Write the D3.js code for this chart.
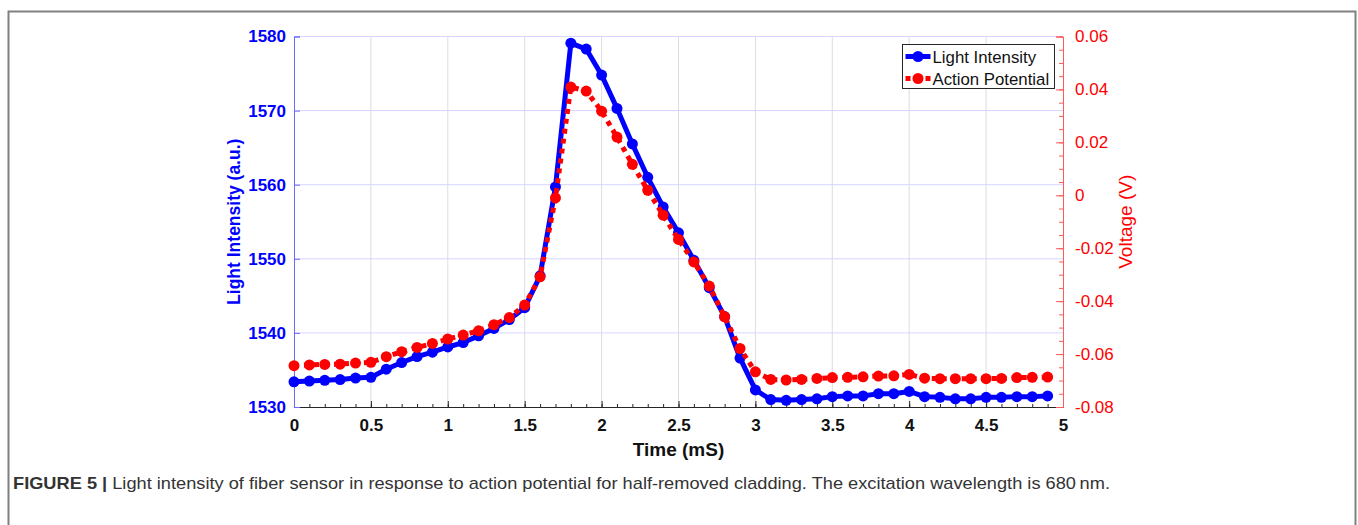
<!DOCTYPE html>
<html>
<head>
<meta charset="utf-8">
<script src="https://cdn.jsdelivr.net/npm/d3@7"></script>
<style>
  body { margin: 0; background: #fff; }
  svg text { font-family: "Liberation Sans", Arial, sans-serif; }
</style>
</head>
<body>
<svg id="chart" width="1358" height="525"></svg>
<script>
// time in ms, sampled every 0.1
var time = [0,0.1,0.2,0.3,0.4,0.5,0.6,0.7,0.8,0.9,1,1.1,1.2,1.3,1.4,1.5,1.6,1.7,1.8,1.9,
            2,2.1,2.2,2.3,2.4,2.5,2.6,2.7,2.8,2.9,3,3.1,3.2,3.3,3.4,3.5,3.6,3.7,3.8,3.9,
            4,4.1,4.2,4.3,4.4,4.5,4.6,4.7,4.8,4.9];

var lightIntensity = [1533.4,1533.5,1533.6,1533.7,1533.9,1534.0,1535.1,1536.0,1536.8,1537.4,
                      1538.1,1538.7,1539.6,1540.6,1541.8,1543.4,1547.7,1559.7,1579.1,1578.3,
                      1574.8,1570.3,1565.5,1561.0,1557.0,1553.5,1549.8,1546.1,1542.2,1536.6,
                      1532.3,1531.0,1530.9,1531.0,1531.1,1531.4,1531.5,1531.5,1531.8,1531.8,
                      1532.1,1531.4,1531.3,1531.1,1531.1,1531.3,1531.3,1531.4,1531.4,1531.5];

var actionPotential = [-0.0644,-0.0641,-0.0639,-0.0638,-0.0634,-0.0631,-0.0610,-0.0591,-0.0575,-0.0560,
                       -0.0543,-0.0528,-0.0512,-0.0489,-0.0462,-0.0415,-0.0308,-0.0010,0.0409,0.0394,
                       0.0318,0.0220,0.0117,0.0019,-0.0075,-0.0167,-0.0252,-0.0343,-0.0459,-0.0579,
                       -0.0667,-0.0696,-0.0698,-0.0696,-0.0692,-0.0689,-0.0688,-0.0686,-0.0683,-0.0682,
                       -0.0677,-0.0691,-0.0693,-0.0693,-0.0693,-0.0693,-0.0692,-0.0689,-0.0688,-0.0687];

var xTicks = [0,0.5,1,1.5,2,2.5,3,3.5,4,4.5,5];
var leftTicks = [1530,1540,1550,1560,1570,1580];
var rightTicks = [-0.08,-0.06,-0.04,-0.02,0,0.02,0.04,0.06];
var seriesNames = ["Light Intensity", "Action Potential"];
var caption = "Light intensity of fiber sensor in response to action potential for half-removed cladding. The excitation wavelength is 680\u2009nm.";

var svg = d3.select("#chart");
var margin = {left: 294, top: 36.5, right: 295, bottom: 118};
var width = 1358 - margin.left - margin.right,
    height = 525 - margin.top - margin.bottom;

// figure frame
svg.append("rect")
    .attr("x", 8.5).attr("y", 11.5)
    .attr("width", 1347).attr("height", 530)
    .attr("fill", "none").attr("stroke", "#808080").attr("stroke-width", 2);

var g = svg.append("g").attr("transform", "translate(" + margin.left + "," + margin.top + ")");

var x = d3.scaleLinear().domain([0, 5]).range([0, width]);
var yL = d3.scaleLinear().domain([1530, 1580]).range([height, 0]);
var yR = d3.scaleLinear().domain([-0.08, 0.06]).range([height, 0]);

// grid
g.append("g").selectAll("line").data(xTicks.slice(1, -1)).enter().append("line")
    .attr("x1", function (d) { return x(d); }).attr("x2", function (d) { return x(d); })
    .attr("y1", 0).attr("y2", height)
    .attr("stroke", "#dcdce4").attr("stroke-width", 1);
g.append("g").selectAll("line").data(leftTicks.slice(1)).enter().append("line")
    .attr("x1", 0).attr("x2", width)
    .attr("y1", function (d) { return yL(d); }).attr("y2", function (d) { return yL(d); })
    .attr("stroke", "#d6d6ff").attr("stroke-width", 1);

// x axis
var xAxis = g.append("g").attr("transform", "translate(0," + height + ")")
    .call(d3.axisBottom(x).tickValues(xTicks).tickSize(-6).tickPadding(12).tickFormat(d3.format("")));
xAxis.select(".domain").attr("stroke", "#262626");
xAxis.selectAll(".tick line").attr("stroke", "#262626");
xAxis.selectAll("text").attr("font-size", 17).attr("font-weight", "bold").attr("fill", "#111");
g.append("g").attr("transform", "translate(0," + height + ")")
    .call(d3.axisBottom(x).tickValues(d3.range(0, 50).map(function (i) { return i / 10; })).tickSize(-3).tickFormat(""))
    .call(function (s) { s.select(".domain").remove(); s.selectAll("line").attr("stroke", "#262626"); });

// left axis
var left = g.append("g")
    .call(d3.axisLeft(yL).tickValues(leftTicks).tickSize(-6).tickPadding(8).tickFormat(d3.format("d")));
left.select(".domain").attr("stroke", "#6a6aff");
left.selectAll(".tick line").attr("stroke", "#6a6aff");
left.selectAll("text").attr("font-size", 17).attr("font-weight", "bold").attr("fill", "#0000ff");

// right axis
var right = g.append("g").attr("transform", "translate(" + width + ",0)")
    .call(d3.axisRight(yR).tickValues(rightTicks).tickSize(-7).tickPadding(12)
        .tickFormat(function (d) { return d === 0 ? "0" : d3.format(".2f")(d).replace("\u2212", "-"); }));
right.select(".domain").attr("stroke", "#ff5a5a");
right.selectAll(".tick line").attr("stroke", "#ff5a5a");
right.selectAll("text").attr("font-size", 17).attr("fill", "#ff0000");
g.append("g").attr("transform", "translate(" + width + ",0)")
    .call(d3.axisRight(yR).tickValues(d3.range(0, 29).map(function (i) { return -0.08 + i * 0.005; })).tickSize(-4).tickFormat(""))
    .call(function (s) { s.select(".domain").remove(); s.selectAll("line").attr("stroke", "#ff5a5a"); });

// axis titles
g.append("text").attr("x", width / 2).attr("y", height + 49)
    .attr("text-anchor", "middle").attr("font-size", 19).attr("font-weight", "bold").attr("fill", "#111")
    .text("Time (mS)");
g.append("text").attr("transform", "translate(" + (-54) + "," + (height / 2) + ") rotate(-90)")
    .attr("text-anchor", "middle").attr("font-size", 17.5).attr("font-weight", "bold").attr("fill", "#0000ff")
    .text("Light Intensity (a.u.)");
g.append("text").attr("transform", "translate(" + (width + 69) + "," + (height / 2) + ") rotate(-90)")
    .attr("text-anchor", "middle").attr("font-size", 19).attr("fill", "#ff0000")
    .text("Voltage (V)");

// series
var blueLine = d3.line().x(function (d, i) { return x(time[i]); }).y(function (d) { return yL(d); });
var redLine = d3.line().x(function (d, i) { return x(time[i]); }).y(function (d) { return yR(d); });

g.append("path").datum(lightIntensity).attr("d", blueLine)
    .attr("fill", "none").attr("stroke", "#0000ff").attr("stroke-width", 5).attr("stroke-linejoin", "round");
g.selectAll(".bdot").data(lightIntensity).enter().append("circle")
    .attr("cx", function (d, i) { return x(time[i]); }).attr("cy", function (d) { return yL(d); })
    .attr("r", 5.5).attr("fill", "#0000ff");

g.append("path").datum(actionPotential).attr("d", redLine)
    .attr("fill", "none").attr("stroke", "#ff0000").attr("stroke-width", 5).attr("stroke-dasharray", "5,5");
g.selectAll(".rdot").data(actionPotential).enter().append("circle")
    .attr("cx", function (d, i) { return x(time[i]); }).attr("cy", function (d) { return yR(d); })
    .attr("r", 5.5).attr("fill", "#ff0000");

// legend
var lg = svg.append("g").attr("transform", "translate(902.5,44.5)");
lg.append("rect").attr("width", 152).attr("height", 44).attr("fill", "#fff").attr("stroke", "#262626");
seriesNames.forEach(function (name, i) {
    var cy = 12 + i * 22;
    lg.append("line").attr("x1", 3).attr("x2", 28).attr("y1", cy).attr("y2", cy)
        .attr("stroke", i ? "#ff0000" : "#0000ff").attr("stroke-width", 5)
        .attr("stroke-dasharray", i ? "5,5" : null);
    lg.append("circle").attr("cx", 15.5).attr("cy", cy).attr("r", 5.5).attr("fill", i ? "#ff0000" : "#0000ff");
    lg.append("text").attr("x", 30).attr("y", cy + 6).attr("font-size", 16.8).attr("fill", "#111").text(name);
});

// caption
var cap = svg.append("text").attr("x", 13).attr("y", 489).attr("font-size", 17).attr("fill", "#333")
    .attr("textLength", 1097).attr("lengthAdjust", "spacingAndGlyphs");
cap.append("tspan").attr("font-weight", "bold").text("FIGURE 5 | ");
cap.append("tspan").text(caption);
</script>
</body>
</html>
